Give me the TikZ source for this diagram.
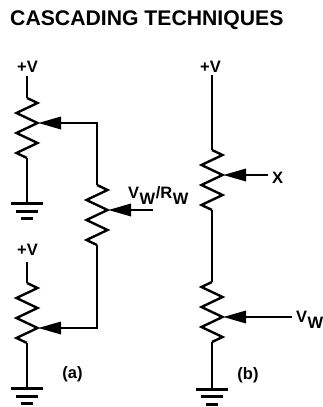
\documentclass[tikz,border=0pt]{standalone}
\usepackage{fontspec}
\setmainfont{Liberation Sans}
\newcommand\lbl{\fontsize{16.5}{19}\selectfont\bfseries}
\newcommand\subw[1]{\kern0.5pt\raisebox{-6.5pt}{\fontsize{16.5}{18}\selectfont\bfseries #1}\kern0.5pt}
\begin{document}
\begin{tikzpicture}[x=1pt,y=-1pt,
  wire/.style={line width=2.6pt,line cap=butt,line join=miter},
  zz/.style={line width=2.4pt,line join=miter},
  tip/.style={fill=black,draw=none},
  txt/.style={inner sep=0pt,anchor=base},
  zigres/.pic={\draw[zz] (0,0) -- (10.5,5) -- (-10.5,15) -- (10.5,25) -- (-10.5,35) -- (10.5,45) -- (-10.5,55) -- (0,60);},
  gnd/.pic={\draw[line width=3pt] (-16,0) -- (16,0) (-11,7.5) -- (11,7.5) (-6,15) -- (6,15);}
]
\useasboundingbox (0,0) rectangle (322,407);

% title
\node[txt,anchor=base west] (title) at (10,25) {\fontsize{21.2}{24}\selectfont\bfseries CASCADING TECHNIQUES};

% ---------- (a) ----------
\node[txt] (va1) at (27.5,72) {\lbl +V};
\node[txt] (va2) at (27.5,255) {\lbl +V};
\coordinate (a1t) at (27,76);
\coordinate (r1s) at (27,98);
\coordinate (r1e) at (27,158);
\coordinate (g1) at (27,203.5);
\pic at (r1s) {zigres};
\pic at (g1) {gnd};
\draw[wire] (a1t) -- (r1s);
\draw[wire] (r1e) -- (g1);

\coordinate (a2t) at (27,262);
\coordinate (r3s) at (27,283);
\coordinate (r3e) at (27,343);
\coordinate (g2) at (27,388.5);
\pic at (r3s) {zigres};
\pic at (g2) {gnd};
\draw[wire] (a2t) -- (r3s);
\draw[wire] (r3e) -- (g2);

% wipers of R1 and R3
\coordinate (w1) at (38.5,123);
\coordinate (w1b) at (61,123);
\fill[tip] (w1) -- (61,116.5) -- (61,129.5) -- cycle;
\coordinate (w3) at (38.5,328);
\coordinate (w3b) at (61,328);
\fill[tip] (w3) -- (61,321.5) -- (61,334.5) -- cycle;

% middle pot
\coordinate (c1) at (97,123);
\coordinate (r2s) at (97,185);
\coordinate (r2e) at (97,245);
\coordinate (c2) at (97,328);
\pic at (r2s) {zigres};
\draw[wire] (w1b) -- (c1) -- (r2s);
\draw[wire] (r2e) -- (c2) -- (w3b);
\coordinate (w2) at (108.5,210);
\coordinate (w2b) at (131,210);
\coordinate (w2e) at (153,210);
\fill[tip] (w2) -- (131,203.5) -- (131,216.5) -- cycle;
\draw[wire] (w2b) -- (w2e);
\node[txt,anchor=base west] (lvw) at (128,198) {\lbl V\subw{W}/R\subw{W}};

\node[txt] (la) at (72.5,378.5) {\lbl (a)};

% ---------- (b) ----------
\node[txt] (vb) at (210.5,72) {\lbl +V};
\coordinate (b1t) at (212,75);
\coordinate (r4s) at (212,150);
\coordinate (r4e) at (212,210);
\coordinate (r5s) at (212,282);
\coordinate (r5e) at (212,342);
\coordinate (g3) at (212,389);
\pic at (r4s) {zigres};
\pic[xscale=-1] at (r5s) {zigres};
\pic at (g3) {gnd};
\draw[wire] (b1t) -- (r4s);
\draw[wire] (r4e) -- (r5s);
\draw[wire] (r5e) -- (g3);

\coordinate (w4) at (223.5,175);
\coordinate (w4b) at (246,175);
\coordinate (w4e) at (268,175);
\fill[tip] (w4) -- (246,168.5) -- (246,181.5) -- cycle;
\draw[wire] (w4b) -- (w4e);
\node[txt,anchor=base west] (lx) at (272,183) {\lbl X};

\coordinate (w5) at (223.5,317);
\coordinate (w5b) at (246,317);
\coordinate (w5e) at (292,317);
\fill[tip] (w5) -- (246,310.5) -- (246,323.5) -- cycle;
\draw[wire] (w5b) -- (w5e);
\node[txt,anchor=base west] (lvw2) at (296,322) {\lbl V\subw{W}};

\node[txt] (lb) at (248,379) {\lbl (b)};
\end{tikzpicture}
\end{document}
